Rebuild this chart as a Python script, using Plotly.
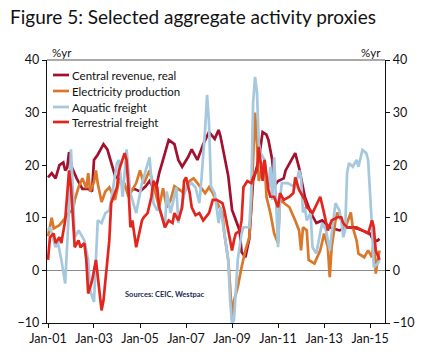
import plotly.graph_objects as go

# ---------------- data ----------------
cr_dates = ["2001-01","2001-03","2001-05","2001-07","2001-09","2001-10","2001-11","2001-12",
            "2002-01","2002-04","2002-07","2002-10","2002-12","2003-01","2003-03","2003-06",
            "2003-08","2003-10","2003-12","2004-03","2004-07","2004-10","2005-01","2005-04",
            "2005-06","2005-09","2005-11","2006-01","2006-04","2006-07","2006-09","2006-11",
            "2007-02","2007-04","2007-07","2007-10","2007-12","2008-01","2008-04","2008-06",
            "2008-07","2008-09","2008-11","2009-01","2009-03","2009-05","2009-06","2009-08",
            "2009-10","2009-11","2009-12","2010-03","2010-05","2010-07","2010-08","2010-10",
            "2010-11","2011-01","2011-04","2011-05","2011-08","2011-10","2011-12","2012-03",
            "2012-06","2012-09","2012-12","2013-04","2013-09","2014-01","2014-06","2014-09",
            "2015-01","2015-03","2015-05","2015-06"]
cr_vals = [17.7,18.5,17.5,20,20.5,19,19.5,22.5,
           20,17.5,15.5,15.5,15,21,22,24,
           23,20.5,18,17,15,15.5,15,16,
           17,15,18.5,21,24.8,24,21,19.7,
           21.5,23,21,24,25.5,26.3,25,26.7,
           25.5,21.5,18,11.5,9.5,7.6,3.5,2.5,
           6,12,17,21,26.3,25.8,24.8,21,
           16,17,17.5,19,21,22.3,19.5,14,
           11,9,9.5,8.2,7.6,8.2,8,7.6,
           7,5.5,5.7,6]

el_dates = ["2001-01","2001-02","2001-03","2001-04","2001-07","2001-09","2001-12","2002-02",
            "2002-03","2002-05","2002-07","2002-09","2002-10","2002-11","2003-01","2003-02",
            "2003-03","2003-05","2003-07","2003-09","2003-12","2004-02","2004-05","2004-07",
            "2004-11","2005-01","2005-03","2005-06","2005-09","2005-11","2006-01","2006-03",
            "2006-05","2006-07","2006-09","2006-12","2007-03","2007-05","2007-07","2007-09",
            "2007-11","2008-01","2008-03","2008-05","2008-08","2008-09","2008-11","2008-12",
            "2009-01","2009-02","2009-04","2009-06","2009-08","2009-10","2009-11","2009-12",
            "2010-01","2010-02","2010-03","2010-04","2010-06","2010-07","2010-09","2010-11",
            "2011-01","2011-02","2011-04","2011-07","2011-10","2011-12","2012-01","2012-02",
            "2012-04","2012-05","2012-08","2012-10","2012-11","2013-01","2013-03","2013-04",
            "2013-05","2013-07","2013-08","2013-10","2013-12","2014-01","2014-03","2014-04",
            "2014-06","2014-07","2014-10","2014-12","2015-02","2015-03","2015-04","2015-05",
            "2015-06"]
el_vals = [6.5,8.2,10,8,8.6,9.5,11,11.5,
           13.4,15.8,17.5,15.6,18.5,15,16.8,19,
           16.6,13,15,15.8,13.4,17,16.5,14,
           16.6,19,16.5,19,14.7,12,15.6,12,
           13.4,16,15.5,14.7,17,17.5,16.6,15.6,
           14.7,15.8,14.7,13,10.9,7,2,-3,
           -9.5,-5.7,-3.2,0.6,3.8,6.3,12,21,
           30,24,17,18.5,21,14,10.9,7,
           5.2,13.4,12.8,12,9.5,7.6,3.8,8.2,
           7.6,2,1.3,3.2,3.8,7,4.4,-1.3,
           4.4,9.5,11,9.5,8.2,9,11,8.2,
           5.7,3.2,2.5,3.8,2.5,5.7,-0.6,2,
           3.8]

aq_dates = ["2001-01","2001-02","2001-05","2001-06","2001-08","2001-10","2001-12","2002-01",
            "2002-02","2002-03","2002-05","2002-06","2002-08","2002-10","2002-11","2003-01",
            "2003-03","2003-05","2003-07","2003-09","2003-10","2004-01","2004-02","2004-04",
            "2004-06","2004-08","2004-11","2005-02","2005-06","2005-08","2005-10","2005-11",
            "2006-02","2006-03","2006-05","2006-08","2006-09","2006-11","2007-01","2007-04",
            "2007-06","2007-08","2007-09","2007-11","2007-12","2008-01","2008-02","2008-04",
            "2008-06","2008-07","2008-09","2008-11","2008-12","2009-01","2009-02","2009-03",
            "2009-04","2009-06","2009-07","2009-10","2009-11","2009-12","2010-01","2010-02",
            "2010-03","2010-04","2010-06","2010-07","2010-08","2010-09","2010-10","2010-11",
            "2010-12","2011-01","2011-02","2011-03","2011-06","2011-10","2011-12","2012-01",
            "2012-02","2012-03","2012-04","2012-06","2012-07","2012-09","2012-10","2012-12",
            "2013-02","2013-04","2013-05","2013-07","2013-09","2013-10","2013-11","2013-12",
            "2014-01","2014-02","2014-04","2014-06","2014-07","2014-09","2014-11","2014-12",
            "2015-02","2015-03","2015-05","2015-06"]
aq_vals = [7.6,8.2,4.4,5.7,2,-2.5,12,23,
           15,6.3,7.6,7,5.7,2,-3.8,-6,
           9.5,9,10.9,11.4,13.4,20.4,21,14,
           23,14.7,10.9,16.6,21.5,12.8,11.4,12,
           8.2,15,10.9,15.8,9,12.8,15.8,16.6,
           15.8,12.8,17,27,33.4,28,16,14.7,
           9,12,7,2,-5.7,-10,-9.5,-4.4,
           2,7,8.2,8.2,14.7,31.8,36.8,33.8,
           24.2,22.3,21,17.7,15.8,19.7,13.4,21.5,
           11.4,4.4,13.4,16.6,16.6,15.8,19,17.7,
           11,12,9.5,10.9,4.4,3.2,5.2,9,
           7.6,3.8,7,12.8,11.4,9.5,6.3,7.6,
           18.5,20.4,19.7,21,19.7,22.9,22.3,21,
           8.2,0.6,1.3,2]

tf_dates = ["2001-01","2001-02","2001-04","2001-05","2001-07","2001-08","2001-10","2001-12",
            "2002-01","2002-03","2002-05","2002-06","2002-08","2002-09","2002-10","2002-12",
            "2003-02","2003-04","2003-05","2003-06","2003-07","2003-09","2003-10","2004-01",
            "2004-02","2004-05","2004-06","2004-07","2004-08","2004-09","2004-11","2005-02",
            "2005-03","2005-05","2005-07","2005-08","2005-10","2005-11","2006-01","2006-02",
            "2006-04","2006-06","2006-07","2006-09","2006-11","2006-12","2007-01","2007-03",
            "2007-04","2007-06","2007-08","2007-10","2008-01","2008-03","2008-05","2008-08",
            "2008-09","2008-11","2008-12","2009-01","2009-02","2009-03","2009-05","2009-06",
            "2009-07","2009-09","2009-11","2009-12","2010-02","2010-03","2010-04","2010-05",
            "2010-06","2010-08","2010-09","2010-11","2011-01","2011-02","2011-04","2011-07",
            "2011-09","2011-10","2011-12","2012-03","2012-04","2012-06","2012-07","2012-09",
            "2012-11","2013-01","2013-03","2013-05","2013-08","2013-10","2013-11","2014-01",
            "2014-06","2014-09","2014-12","2015-02","2015-03","2015-04","2015-06"]
tf_vals = [2,6.3,7,5.2,6.3,5.2,9.5,19,
           15.8,4.4,5.7,4.4,5.2,2,-4.4,-2,
           2,-4.4,-7.6,-5.7,-2,5.7,12.8,15.8,
           19,22.3,21,15.8,8.2,9.5,4.4,9.5,
           10.1,10.9,14,17,15.8,12,9.5,8.2,
           9.5,9,10.9,9.5,12,17,17.7,14.7,
           12,10.5,10.9,9.5,10.9,13.4,13.4,12.8,
           11.4,7.6,5,3.8,5.7,7,7.5,9.5,
           15.8,17,16.6,17.7,19,23.5,20.4,17,
           21,15.3,14,14,12,14.7,13.4,14,
           14.7,17.7,15.3,13.4,12,11.4,10.9,12.5,
           14,10.9,7.6,9.5,10.1,10.1,9,8.2,
           8.2,7.6,7,9.5,8.2,3.8,2]

series_names = ["Central revenue, real", "Electricity production", "Aquatic freight", "Terrestrial freight"]
series_colors = ["#A3102F", "#D9782A", "#A6C8DF", "#E2261E"]

tick_dates = ["2001-01-01","2003-01-01","2005-01-01","2007-01-01",
              "2009-01-01","2011-01-01","2013-01-01","2015-01-01"]
tick_labels = ["Jan-01","Jan-03","Jan-05","Jan-07","Jan-09","Jan-11","Jan-13","Jan-15"]
y_ticks = [-10, 0, 10, 20, 30, 40]

FONT = "Lato"

fig = go.Figure()
all_series = [(cr_dates, cr_vals), (el_dates, el_vals), (aq_dates, aq_vals), (tf_dates, tf_vals)]
for (d, v), name, col in zip(all_series, series_names, series_colors):
    fig.add_trace(go.Scatter(x=d, y=v, mode="lines", name=name,
                             line=dict(color=col, width=2.7), showlegend=False))
# invisible trace to activate the right-hand axis
fig.add_trace(go.Scatter(x=[cr_dates[0]], y=[None], yaxis="y2", mode="lines",
                         showlegend=False, hoverinfo="skip"))

W, H = 426, 361
L, R, T, B = 47, 41, 60, 38
pw, ph = W - L - R, H - T - B

def px(x):
    return (x - L) / pw

def py(y):
    return (H - B - y) / ph

shapes = [dict(type="line", xref="paper", yref="paper", x0=0, x1=1, y0=1, y1=1,
               line=dict(color="#8c8c8c", width=1.3))]
annotations = []
leg_rows = [75, 91, 107, 122]
for name, col, yr in zip(series_names, series_colors, leg_rows):
    shapes.append(dict(type="line", xref="paper", yref="paper", x0=px(53), x1=px(69),
                       y0=py(yr), y1=py(yr), line=dict(color=col, width=2.7)))
    annotations.append(dict(xref="paper", yref="paper", x=px(69.5), y=py(yr), text=name,
                            showarrow=False, xanchor="left", yanchor="middle",
                            font=dict(family=FONT, size=11.5, color="#111111")))
annotations += [
    dict(xref="paper", yref="paper", x=px(50), y=py(52.5), text="%yr", showarrow=False,
         xanchor="left", yanchor="middle", font=dict(family=FONT, size=11.5, color="#111111")),
    dict(xref="paper", yref="paper", x=px(383), y=py(52.5), text="%yr", showarrow=False,
         xanchor="right", yanchor="middle", font=dict(family=FONT, size=11.5, color="#111111")),
    dict(xref="paper", yref="paper", x=px(165), y=py(294), text="<b>Sources: CEIC, Westpac</b>",
         showarrow=False, xanchor="center", yanchor="middle",
         font=dict(family=FONT, size=7.5, color="#1d2a55")),
]

axis_font = dict(family=FONT, size=12.5, color="#111111")
fig.update_layout(
    width=W, height=H,
    margin=dict(l=L, r=R, t=T, b=B),
    paper_bgcolor="white", plot_bgcolor="white",
    title=dict(text="Figure 5: Selected aggregate activity proxies", xref="container",
               x=10 / W, xanchor="left", y=1 - 17 / H, yanchor="middle",
               font=dict(family=FONT, size=19, color="#111111")),
    xaxis=dict(range=["2000-12-16", "2015-08-26"], tickvals=tick_dates, ticktext=tick_labels,
               showgrid=False, zeroline=False, showline=True, linecolor="#111111", linewidth=1.3,
               ticks="outside", ticklen=4, tickcolor="#111111", tickfont=axis_font),
    yaxis=dict(range=[-10, 40], tickvals=y_ticks, showgrid=False, zeroline=True,
               zerolinecolor="#8c8c8c", zerolinewidth=1.3, showline=True, linecolor="#111111",
               linewidth=1.3, ticks="outside", ticklen=4, tickcolor="#111111", tickfont=axis_font),
    yaxis2=dict(range=[-10, 40], tickvals=y_ticks, overlaying="y", side="right", showgrid=False,
                zeroline=False, showline=True, linecolor="#111111", linewidth=1.3,
                ticks="outside", ticklen=4, tickcolor="#111111", tickfont=axis_font),
    shapes=shapes, annotations=annotations,
)

fig.write_html("out.html", config={"displayModeBar": False},
               post_script="document.body.style.margin='0';document.body.style.overflow='hidden';")
